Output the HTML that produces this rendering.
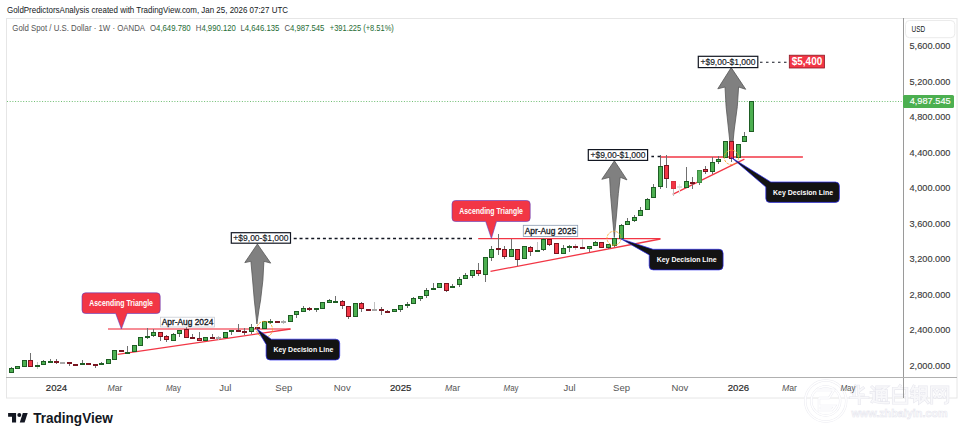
<!DOCTYPE html>
<html><head><meta charset="utf-8"><style>
html,body{margin:0;padding:0;background:#fff;width:964px;height:438px;overflow:hidden}
svg{display:block;font-family:"Liberation Sans",sans-serif}
</style></head><body>
<svg width="964" height="438" viewBox="0 0 964 438">
<rect width="964" height="438" fill="#fff"/>
<text x="7" y="13.3" font-size="8.6" fill="#131722" textLength="281" lengthAdjust="spacingAndGlyphs">GoldPredictorsAnalysis created with TradingView.com, Jan 25, 2026 07:27 UTC</text>
<rect x="6.5" y="18.5" width="950.5" height="379.5" fill="#fff" stroke="#e6e6e6" stroke-width="1"/>
<line x1="903.5" y1="18" x2="903.5" y2="398" stroke="#9a9a9a" stroke-width="1"/>
<line x1="6" y1="377.5" x2="957" y2="377.5" stroke="#b0b0b0" stroke-width="1"/>
<rect x="905.5" y="20.5" width="49.3" height="17.2" rx="4" fill="#fff" stroke="#ebebeb"/>
<text x="911.6" y="31.9" font-size="8.4" fill="#131722" textLength="13.6" lengthAdjust="spacingAndGlyphs">USD</text>
<g font-size="9" fill="#3a3a3a" stroke="#3a3a3a" stroke-width="0.12"><text x="909.5" y="49.3" textLength="41" lengthAdjust="spacingAndGlyphs">5,600.000</text><text x="909.5" y="84.8" textLength="41" lengthAdjust="spacingAndGlyphs">5,200.000</text><text x="909.5" y="120.2" textLength="41" lengthAdjust="spacingAndGlyphs">4,800.000</text><text x="909.5" y="155.7" textLength="41" lengthAdjust="spacingAndGlyphs">4,400.000</text><text x="909.5" y="191.2" textLength="41" lengthAdjust="spacingAndGlyphs">4,000.000</text><text x="909.5" y="226.6" textLength="41" lengthAdjust="spacingAndGlyphs">3,600.000</text><text x="909.5" y="262.1" textLength="41" lengthAdjust="spacingAndGlyphs">3,200.000</text><text x="909.5" y="297.6" textLength="41" lengthAdjust="spacingAndGlyphs">2,800.000</text><text x="909.5" y="333.0" textLength="41" lengthAdjust="spacingAndGlyphs">2,400.000</text><text x="909.5" y="368.5" textLength="41" lengthAdjust="spacingAndGlyphs">2,000.000</text></g>
<g opacity="1"><circle cx="825.7" cy="401" r="20.5" fill="none" stroke="#ebebf1" stroke-width="2.4"/><circle cx="825.7" cy="401" r="20.5" fill="none" stroke="#fff" stroke-width="1.4"/><circle cx="825.7" cy="401" r="14.5" fill="none" stroke="#ebebf1" stroke-width="2.4"/><circle cx="825.7" cy="401" r="14.5" fill="none" stroke="#fff" stroke-width="1.4"/><path d="M817 390 H834 L829 398 H819 M819 398 V410 H832 L835 406 H819" fill="none" stroke="#ebebf1" stroke-width="2.4"/><path d="M817 390 H834 L829 398 H819 M819 398 V410 H832 L835 406 H819" fill="none" stroke="#fff" stroke-width="1.4"/><path transform="translate(849.8,385.2) scale(0.95,0.92)" d="M6 1 L2 8 M4.5 5 V11 M9 1 V9 Q9 10.5 11 10.5 H14 M14 3 L10 6 M1 13.5 H19 M10 11 V20" fill="none" stroke="#e8e8ef" stroke-width="3.2" stroke-linecap="square"/><path transform="translate(849.8,385.2) scale(0.95,0.92)" d="M6 1 L2 8 M4.5 5 V11 M9 1 V9 Q9 10.5 11 10.5 H14 M14 3 L10 6 M1 13.5 H19 M10 11 V20" fill="none" stroke="#fff" stroke-opacity="0.7" stroke-width="1.8" stroke-linecap="square"/><path transform="translate(870.2,385.2) scale(0.95,0.92)" d="M2 2 L4 4 M1 8 H4 V15 L2 18 M4 17 Q8 19.5 19 19 M7 2 H17 L13 5 M7 6 H17 V16 M7 6 V16 M7 10 H17 M7 13 H17 M12 6 V16" fill="none" stroke="#e8e8ef" stroke-width="3.2" stroke-linecap="square"/><path transform="translate(870.2,385.2) scale(0.95,0.92)" d="M2 2 L4 4 M1 8 H4 V15 L2 18 M4 17 Q8 19.5 19 19 M7 2 H17 L13 5 M7 6 H17 V16 M7 6 V16 M7 10 H17 M7 13 H17 M12 6 V16" fill="none" stroke="#fff" stroke-opacity="0.7" stroke-width="1.8" stroke-linecap="square"/><path transform="translate(890.6,385.2) scale(0.95,0.92)" d="M10 0.5 L8.5 3 M3 3.5 H17 V19.5 H3 Z M3 11 H17" fill="none" stroke="#e8e8ef" stroke-width="3.2" stroke-linecap="square"/><path transform="translate(890.6,385.2) scale(0.95,0.92)" d="M10 0.5 L8.5 3 M3 3.5 H17 V19.5 H3 Z M3 11 H17" fill="none" stroke="#fff" stroke-opacity="0.7" stroke-width="1.8" stroke-linecap="square"/><path transform="translate(910,385.2) scale(0.95,0.92)" d="M4 1 L1.5 6 M3 4 H8 M2 9 H8 M5 5 V17 L8 15 M2 13 H8 M10 2 H17 V11 H10 Z M10 6.5 H17 M10 2 V19 L14 16 M13 11 L19 19 M17 12 L13 15" fill="none" stroke="#e8e8ef" stroke-width="3.2" stroke-linecap="square"/><path transform="translate(910,385.2) scale(0.95,0.92)" d="M4 1 L1.5 6 M3 4 H8 M2 9 H8 M5 5 V17 L8 15 M2 13 H8 M10 2 H17 V11 H10 Z M10 6.5 H17 M10 2 V19 L14 16 M13 11 L19 19 M17 12 L13 15" fill="none" stroke="#fff" stroke-opacity="0.7" stroke-width="1.8" stroke-linecap="square"/><path transform="translate(930.2,385.2) scale(0.95,0.92)" d="M1.5 19.5 V2 H18.5 V17 Q18.5 19.5 16 19.5 M5 6 L9 13 M9 6 L5 13 M11 6 L15 13 M15 6 L11 13" fill="none" stroke="#e8e8ef" stroke-width="3.2" stroke-linecap="square"/><path transform="translate(930.2,385.2) scale(0.95,0.92)" d="M1.5 19.5 V2 H18.5 V17 Q18.5 19.5 16 19.5 M5 6 L9 13 M9 6 L5 13 M11 6 L15 13 M15 6 L11 13" fill="none" stroke="#fff" stroke-opacity="0.7" stroke-width="1.8" stroke-linecap="square"/><text x="851.4" y="417.3" font-size="11" font-weight="bold" fill="#fff" stroke="#e6e6ee" stroke-width="0.6" textLength="96.3" lengthAdjust="spacingAndGlyphs">www.zhbaiyin.com</text></g>
<g font-size="9.5" fill="#555"><text x="56.5" y="390.9" text-anchor="middle" fill="#2a2a2a" stroke="#2a2a2a" stroke-width="0.2" font-size="9.6">2024</text><text x="114.9" y="390.9" text-anchor="middle" textLength="15" lengthAdjust="spacingAndGlyphs"><tspan font-style="italic">M</tspan>ar</text><text x="173.4" y="390.9" text-anchor="middle" textLength="15" lengthAdjust="spacingAndGlyphs"><tspan font-style="italic">M</tspan>ay</text><text x="225.3" y="390.9" text-anchor="middle">Jul</text><text x="283.8" y="390.9" text-anchor="middle">Sep</text><text x="342.2" y="390.9" text-anchor="middle">Nov</text><text x="400.7" y="390.9" text-anchor="middle" fill="#2a2a2a" stroke="#2a2a2a" stroke-width="0.2" font-size="9.6">2025</text><text x="452.6" y="390.9" text-anchor="middle" textLength="15" lengthAdjust="spacingAndGlyphs"><tspan font-style="italic">M</tspan>ar</text><text x="511.1" y="390.9" text-anchor="middle" textLength="15" lengthAdjust="spacingAndGlyphs"><tspan font-style="italic">M</tspan>ay</text><text x="569.6" y="390.9" text-anchor="middle">Jul</text><text x="621.5" y="390.9" text-anchor="middle">Sep</text><text x="679.9" y="390.9" text-anchor="middle">Nov</text><text x="738.4" y="390.9" text-anchor="middle" fill="#2a2a2a" stroke="#2a2a2a" stroke-width="0.2" font-size="9.6">2026</text><text x="789.5" y="390.9" text-anchor="middle" textLength="15" lengthAdjust="spacingAndGlyphs"><tspan font-style="italic">M</tspan>ar</text><text x="848.0" y="390.9" text-anchor="middle" textLength="15" lengthAdjust="spacingAndGlyphs"><tspan font-style="italic">M</tspan>ay</text></g>
<g font-size="8.6" fill="#1e6b34"><text x="12.3" y="31.2" fill="#555" textLength="132.8" lengthAdjust="spacingAndGlyphs">Gold Spot / U.S. Dollar · 1W · OANDA</text><text x="150" y="31.2" textLength="40.7" lengthAdjust="spacingAndGlyphs"><tspan fill="#555">O</tspan>4,649.780</text><text x="195.8" y="31.2" textLength="40" lengthAdjust="spacingAndGlyphs"><tspan fill="#555">H</tspan>4,990.120</text><text x="240.4" y="31.2" textLength="39" lengthAdjust="spacingAndGlyphs"><tspan fill="#555">L</tspan>4,646.135</text><text x="284.4" y="31.2" textLength="40" lengthAdjust="spacingAndGlyphs"><tspan fill="#555">C</tspan>4,987.545</text><text x="329.8" y="31.2" textLength="64" lengthAdjust="spacingAndGlyphs">+391.225 (+8.51%)</text></g>
<line x1="7" y1="101.5" x2="903" y2="101.5" stroke="#4caf50" stroke-width="1" stroke-dasharray="1 1.7" opacity="0.8"/>
<line x1="108" y1="329" x2="290.5" y2="329" stroke="#f23645" stroke-width="1.6" opacity="0.75"/><line x1="117.7" y1="354.3" x2="290.5" y2="329" stroke="#f23645" stroke-width="1.3"/><line x1="478.2" y1="238.6" x2="660.4" y2="238.6" stroke="#f23645" stroke-width="1.4"/><line x1="490.5" y1="271.4" x2="660.4" y2="239" stroke="#f23645" stroke-width="1.3"/><line x1="660.5" y1="157.0" x2="802.9" y2="157.0" stroke="#f23645" stroke-width="1.4"/><line x1="672.7" y1="194.3" x2="744.4" y2="159.2" stroke="#f23645" stroke-width="1.3"/>
<path d="M257.4 244.0 L270.7 263.1 L263.9 261.3 L262.9 280.0 L260.6 300.0 L258.9 310.0 L256.9 324.0 L255.4 310.0 L254.3 300.0 L252.6 280.0 L250.9 261.3 L244.8 262.6Z" fill="#808080" stroke="#585858" stroke-width="0.8" stroke-linejoin="round"/><path d="M614.4 160.8 L627.0 179.9 L620.2 177.3 L618.3 193.8 L616.5 215.0 L614.3 237.5 L612.3 215.0 L610.5 193.8 L609.6 177.3 L601.8 179.3Z" fill="#808080" stroke="#585858" stroke-width="0.8" stroke-linejoin="round"/><path d="M731.2 67.6 L745.7 89.3 L738.6 87.0 L737.3 106.7 L734.2 130.0 L731.5 157.0 L728.6 130.0 L726.1 106.7 L725.0 87.0 L717.8 88.8Z" fill="#808080" stroke="#585858" stroke-width="0.8" stroke-linejoin="round"/>
<g fill="#707070"><rect x="11" y="367" width="1" height="6"/><rect x="30" y="353" width="1" height="14"/><rect x="37" y="362" width="1" height="7" fill="#c0c0c0"/><rect x="43" y="360" width="1" height="5"/><rect x="50" y="359" width="1" height="4"/><rect x="56" y="359" width="1" height="5"/><rect x="69" y="362" width="1" height="4"/><rect x="82" y="360" width="1" height="5"/><rect x="95" y="364" width="1" height="4"/><rect x="101" y="362" width="1" height="3"/><rect x="127" y="346" width="1" height="8"/><rect x="147" y="328" width="1" height="11"/><rect x="153" y="329" width="1" height="8"/><rect x="160" y="332" width="1" height="9"/><rect x="166" y="335" width="1" height="7"/><rect x="173" y="333" width="1" height="8"/><rect x="179" y="330" width="1" height="7"/><rect x="186" y="326" width="1" height="12"/><rect x="192" y="334" width="1" height="5"/><rect x="199" y="332" width="1" height="9"/><rect x="212" y="334" width="1" height="5"/><rect x="218" y="336" width="1" height="4" fill="#c0c0c0"/><rect x="231" y="330" width="1" height="5"/><rect x="238" y="324" width="1" height="8"/><rect x="244" y="328" width="1" height="7"/><rect x="251" y="324" width="1" height="10"/><rect x="270" y="319" width="1" height="5"/><rect x="283" y="320" width="1" height="4" fill="#c0c0c0"/><rect x="296" y="311" width="1" height="7"/><rect x="303" y="306" width="1" height="6"/><rect x="309" y="307" width="1" height="4"/><rect x="316" y="308" width="1" height="4"/><rect x="329" y="299" width="1" height="4"/><rect x="335" y="296" width="1" height="7"/><rect x="342" y="300" width="1" height="9"/><rect x="348" y="306" width="1" height="13"/><rect x="361" y="302" width="1" height="10"/><rect x="374" y="302" width="1" height="9" fill="#c0c0c0"/><rect x="381" y="307" width="1" height="8"/><rect x="387" y="310" width="1" height="3"/><rect x="400" y="305" width="1" height="7"/><rect x="407" y="302" width="1" height="6"/><rect x="413" y="297" width="1" height="7"/><rect x="420" y="296" width="1" height="5"/><rect x="426" y="288" width="1" height="10"/><rect x="433" y="283" width="1" height="7"/><rect x="446" y="283" width="1" height="9"/><rect x="452" y="284" width="1" height="4"/><rect x="459" y="277" width="1" height="10"/><rect x="465" y="273" width="1" height="6"/><rect x="472" y="270" width="1" height="8"/><rect x="478" y="263" width="1" height="13"/><rect x="485" y="257" width="1" height="25"/><rect x="491" y="246" width="1" height="15"/><rect x="498" y="234" width="1" height="21"/><rect x="504" y="246" width="1" height="13"/><rect x="511" y="239" width="1" height="18"/><rect x="517" y="249" width="1" height="17"/><rect x="530" y="246" width="1" height="10"/><rect x="537" y="242" width="1" height="10" fill="#c0c0c0"/><rect x="543" y="238" width="1" height="13"/><rect x="549" y="239" width="1" height="7"/><rect x="563" y="245" width="1" height="9"/><rect x="569" y="245" width="1" height="7"/><rect x="575" y="244" width="1" height="6" fill="#c0c0c0"/><rect x="582" y="239" width="1" height="10" fill="#c0c0c0"/><rect x="589" y="246" width="1" height="6"/><rect x="595" y="241" width="1" height="5"/><rect x="608" y="244" width="1" height="5"/><rect x="614" y="238" width="1" height="9"/><rect x="621" y="224" width="1" height="15"/><rect x="627" y="218" width="1" height="7"/><rect x="634" y="215" width="1" height="7"/><rect x="640" y="207" width="1" height="9"/><rect x="647" y="198" width="1" height="12"/><rect x="653" y="184" width="1" height="14"/><rect x="660" y="155" width="1" height="34"/><rect x="666" y="155" width="1" height="33"/><rect x="673" y="181" width="1" height="15" fill="#c0c0c0"/><rect x="679" y="184" width="1" height="10" fill="#e8e8e8"/><rect x="686" y="167" width="1" height="21"/><rect x="692" y="177" width="1" height="12"/><rect x="699" y="170" width="1" height="15"/><rect x="705" y="166" width="1" height="8"/><rect x="712" y="157" width="1" height="17"/><rect x="718" y="156" width="1" height="8"/><rect x="731" y="141" width="1" height="21"/><rect x="744" y="132" width="1" height="10"/></g>
<g><rect x="9.5" y="368.5" width="4" height="4" fill="#4caf50" stroke="#1e5e24" stroke-width="1"/><rect x="15.5" y="366.5" width="4" height="2" fill="#4caf50" stroke="#1e5e24" stroke-width="1"/><rect x="22.5" y="360.5" width="4" height="6" fill="#4caf50" stroke="#1e5e24" stroke-width="1"/><rect x="28.5" y="360.5" width="4" height="6" fill="#f23645" stroke="#7a1520" stroke-width="1"/><rect x="35" y="365" width="5" height="2" fill="#1e5e24"/><rect x="41.5" y="361.5" width="4" height="3" fill="#4caf50" stroke="#1e5e24" stroke-width="1"/><rect x="48" y="361" width="5" height="2" fill="#1e5e24"/><rect x="54" y="361" width="5" height="2" fill="#7a1520"/><rect x="60" y="362" width="5" height="2" fill="#a8a8a8"/><rect x="67" y="362" width="5" height="2" fill="#7a1520"/><rect x="73" y="364" width="5" height="2" fill="#7a1520"/><rect x="80" y="363" width="5" height="2" fill="#1e5e24"/><rect x="86" y="363" width="5" height="2" fill="#7a1520"/><rect x="93" y="364" width="5" height="2" fill="#7a1520"/><rect x="99" y="363" width="5" height="2" fill="#1e5e24"/><rect x="106.5" y="359.5" width="4" height="4" fill="#4caf50" stroke="#1e5e24" stroke-width="1"/><rect x="112.5" y="350.5" width="4" height="9" fill="#4caf50" stroke="#1e5e24" stroke-width="1"/><rect x="119" y="350" width="5" height="2" fill="#7a1520"/><rect x="125" y="352" width="5" height="2" fill="#1e5e24"/><rect x="132.5" y="345.5" width="4" height="6" fill="#4caf50" stroke="#1e5e24" stroke-width="1"/><rect x="138.5" y="337.5" width="4" height="8" fill="#4caf50" stroke="#1e5e24" stroke-width="1"/><rect x="145" y="336" width="5" height="2" fill="#1e5e24"/><rect x="151.5" y="332.5" width="4" height="3" fill="#4caf50" stroke="#1e5e24" stroke-width="1"/><rect x="158.5" y="332.5" width="4" height="4" fill="#f23645" stroke="#7a1520" stroke-width="1"/><rect x="164.5" y="336.5" width="4" height="3" fill="#f23645" stroke="#7a1520" stroke-width="1"/><rect x="171.5" y="334.5" width="4" height="6" fill="#4caf50" stroke="#1e5e24" stroke-width="1"/><rect x="177.5" y="330.5" width="4" height="3" fill="#4caf50" stroke="#1e5e24" stroke-width="1"/><rect x="184.5" y="329.5" width="4" height="8" fill="#f23645" stroke="#7a1520" stroke-width="1"/><rect x="190" y="337" width="5" height="2" fill="#7a1520"/><rect x="197.5" y="338.5" width="4" height="2" fill="#f23645" stroke="#7a1520" stroke-width="1"/><rect x="203.5" y="337.5" width="4" height="3" fill="#4caf50" stroke="#1e5e24" stroke-width="1"/><rect x="210" y="337" width="5" height="2" fill="#7a1520"/><rect x="216" y="337" width="5" height="2" fill="#a8a8a8"/><rect x="223.5" y="332.5" width="4" height="5" fill="#4caf50" stroke="#1e5e24" stroke-width="1"/><rect x="229" y="330" width="5" height="2" fill="#1e5e24"/><rect x="236" y="330" width="5" height="2" fill="#7a1520"/><rect x="242" y="331" width="5" height="2" fill="#7a1520"/><rect x="249.5" y="327.5" width="4" height="4" fill="#4caf50" stroke="#1e5e24" stroke-width="1"/><rect x="255" y="327" width="5" height="2" fill="#7a1520"/><rect x="262.5" y="321.5" width="4" height="7" fill="#4caf50" stroke="#1e5e24" stroke-width="1"/><rect x="268" y="321" width="5" height="2" fill="#1e5e24"/><rect x="275" y="321" width="5" height="2" fill="#7a1520"/><rect x="281" y="321" width="5" height="2" fill="#a8a8a8"/><rect x="288.5" y="315.5" width="4" height="6" fill="#4caf50" stroke="#1e5e24" stroke-width="1"/><rect x="294.5" y="311.5" width="4" height="3" fill="#4caf50" stroke="#1e5e24" stroke-width="1"/><rect x="301.5" y="308.5" width="4" height="3" fill="#4caf50" stroke="#1e5e24" stroke-width="1"/><rect x="307" y="308" width="5" height="2" fill="#7a1520"/><rect x="314" y="308" width="5" height="2" fill="#1e5e24"/><rect x="320.5" y="302.5" width="4" height="6" fill="#4caf50" stroke="#1e5e24" stroke-width="1"/><rect x="327.5" y="300.5" width="4" height="2" fill="#4caf50" stroke="#1e5e24" stroke-width="1"/><rect x="333" y="301" width="5" height="2" fill="#1e5e24"/><rect x="340.5" y="301.5" width="4" height="4" fill="#f23645" stroke="#7a1520" stroke-width="1"/><rect x="346.5" y="306.5" width="4" height="10" fill="#f23645" stroke="#7a1520" stroke-width="1"/><rect x="353.5" y="303.5" width="4" height="13" fill="#4caf50" stroke="#1e5e24" stroke-width="1"/><rect x="359.5" y="303.5" width="4" height="5" fill="#f23645" stroke="#7a1520" stroke-width="1"/><rect x="366" y="309" width="5" height="2" fill="#7a1520"/><rect x="372" y="309" width="5" height="2" fill="#a8a8a8"/><rect x="379" y="309" width="5" height="2" fill="#7a1520"/><rect x="385" y="311" width="5" height="2" fill="#7a1520"/><rect x="392.5" y="309.5" width="4" height="2" fill="#4caf50" stroke="#1e5e24" stroke-width="1"/><rect x="398.5" y="305.5" width="4" height="4" fill="#4caf50" stroke="#1e5e24" stroke-width="1"/><rect x="405" y="304" width="5" height="2" fill="#1e5e24"/><rect x="411.5" y="298.5" width="4" height="5" fill="#4caf50" stroke="#1e5e24" stroke-width="1"/><rect x="418.5" y="296.5" width="4" height="2" fill="#4caf50" stroke="#1e5e24" stroke-width="1"/><rect x="424.5" y="290.5" width="4" height="5" fill="#4caf50" stroke="#1e5e24" stroke-width="1"/><rect x="431" y="288" width="5" height="2" fill="#1e5e24"/><rect x="437.5" y="283.5" width="4" height="4" fill="#4caf50" stroke="#1e5e24" stroke-width="1"/><rect x="444.5" y="283.5" width="4" height="7" fill="#f23645" stroke="#7a1520" stroke-width="1"/><rect x="450" y="286" width="5" height="2" fill="#1e5e24"/><rect x="457.5" y="279.5" width="4" height="5" fill="#4caf50" stroke="#1e5e24" stroke-width="1"/><rect x="463.5" y="275.5" width="4" height="3" fill="#4caf50" stroke="#1e5e24" stroke-width="1"/><rect x="470.5" y="270.5" width="4" height="5" fill="#4caf50" stroke="#1e5e24" stroke-width="1"/><rect x="476.5" y="270.5" width="4" height="3" fill="#f23645" stroke="#7a1520" stroke-width="1"/><rect x="483.5" y="257.5" width="4" height="17" fill="#4caf50" stroke="#1e5e24" stroke-width="1"/><rect x="489.5" y="249.5" width="4" height="8" fill="#4caf50" stroke="#1e5e24" stroke-width="1"/><rect x="496" y="248" width="5" height="2" fill="#7a1520"/><rect x="502.5" y="249.5" width="4" height="7" fill="#f23645" stroke="#7a1520" stroke-width="1"/><rect x="509.5" y="249.5" width="4" height="7" fill="#4caf50" stroke="#1e5e24" stroke-width="1"/><rect x="515.5" y="249.5" width="4" height="10" fill="#f23645" stroke="#7a1520" stroke-width="1"/><rect x="522.5" y="246.5" width="4" height="12" fill="#4caf50" stroke="#1e5e24" stroke-width="1"/><rect x="528.5" y="247.5" width="4" height="4" fill="#f23645" stroke="#7a1520" stroke-width="1"/><rect x="535" y="250" width="5" height="2" fill="#1e5e24"/><rect x="541.5" y="239.5" width="4" height="10" fill="#4caf50" stroke="#1e5e24" stroke-width="1"/><rect x="547.5" y="239.5" width="4" height="5" fill="#f23645" stroke="#7a1520" stroke-width="1"/><rect x="554.5" y="243.5" width="4" height="10" fill="#f23645" stroke="#7a1520" stroke-width="1"/><rect x="561.5" y="248.5" width="4" height="5" fill="#4caf50" stroke="#1e5e24" stroke-width="1"/><rect x="567" y="246" width="5" height="2" fill="#1e5e24"/><rect x="573" y="246" width="5" height="2" fill="#7a1520"/><rect x="580" y="247" width="5" height="2" fill="#7a1520"/><rect x="587.5" y="246.5" width="4" height="2" fill="#4caf50" stroke="#1e5e24" stroke-width="1"/><rect x="593.5" y="242.5" width="4" height="3" fill="#4caf50" stroke="#1e5e24" stroke-width="1"/><rect x="599.5" y="242.5" width="4" height="5" fill="#f23645" stroke="#7a1520" stroke-width="1"/><rect x="606.5" y="244.5" width="4" height="3" fill="#4caf50" stroke="#1e5e24" stroke-width="1"/><rect x="612.5" y="238.5" width="4" height="7" fill="#4caf50" stroke="#1e5e24" stroke-width="1"/><rect x="619.5" y="225.5" width="4" height="13" fill="#4caf50" stroke="#1e5e24" stroke-width="1"/><rect x="625.5" y="221.5" width="4" height="3" fill="#4caf50" stroke="#1e5e24" stroke-width="1"/><rect x="632.5" y="217.5" width="4" height="3" fill="#4caf50" stroke="#1e5e24" stroke-width="1"/><rect x="638.5" y="210.5" width="4" height="5" fill="#4caf50" stroke="#1e5e24" stroke-width="1"/><rect x="645.5" y="199.5" width="4" height="10" fill="#4caf50" stroke="#1e5e24" stroke-width="1"/><rect x="651.5" y="187.5" width="4" height="10" fill="#4caf50" stroke="#1e5e24" stroke-width="1"/><rect x="658.5" y="166.5" width="4" height="20" fill="#4caf50" stroke="#1e5e24" stroke-width="1"/><rect x="664.5" y="165.5" width="4" height="13" fill="#f23645" stroke="#7a1520" stroke-width="1"/><rect x="671.5" y="181.5" width="4" height="7" fill="#f23645" stroke="#d83040" stroke-width="1"/><rect x="677" y="186" width="5" height="2" fill="#e0e0e0"/><rect x="684.5" y="181.5" width="4" height="6" fill="#4caf50" stroke="#1e5e24" stroke-width="1"/><rect x="690" y="182" width="5" height="2" fill="#7a1520"/><rect x="697.5" y="170.5" width="4" height="12" fill="#55b159" stroke="#3f8f44" stroke-width="1"/><rect x="703.5" y="169.5" width="4" height="2" fill="#f23645" stroke="#7a1520" stroke-width="1"/><rect x="710.5" y="162.5" width="4" height="9" fill="#4caf50" stroke="#1e5e24" stroke-width="1"/><rect x="716.5" y="159.5" width="4" height="2" fill="#4caf50" stroke="#1e5e24" stroke-width="1"/><rect x="723.5" y="141.5" width="4" height="16" fill="#4caf50" stroke="#1e5e24" stroke-width="1"/><rect x="729.5" y="141.5" width="4" height="17" fill="#f23645" stroke="#7a1520" stroke-width="1"/><rect x="736.5" y="144.5" width="4" height="13" fill="#4caf50" stroke="#1e5e24" stroke-width="1"/><rect x="742.5" y="136.5" width="4" height="5" fill="#4caf50" stroke="#1e5e24" stroke-width="1"/><rect x="749.5" y="101.5" width="4" height="30" fill="#4caf50" stroke="#1e5e24" stroke-width="1"/></g>
<circle cx="264.5" cy="329.3" r="8" fill="none" stroke="#f7a325" stroke-width="0.9" stroke-dasharray="2.4 1.1"/><circle cx="614" cy="238.3" r="7.0" fill="none" stroke="#f7a325" stroke-width="0.9" stroke-dasharray="2.4 1.1"/><circle cx="731.4" cy="157.4" r="7.2" fill="none" stroke="#f7a325" stroke-width="0.9" stroke-dasharray="2.4 1.1"/><line x1="293.7" y1="238.5" x2="472" y2="238.5" stroke="#131722" stroke-width="1.3" stroke-dasharray="3 2.843"/><line x1="651.4" y1="156.5" x2="660.2" y2="156.5" stroke="#131722" stroke-width="1.3" stroke-dasharray="2.6 3.6"/><line x1="760" y1="62.3" x2="786.5" y2="62.3" stroke="#131722" stroke-width="1.1" stroke-dasharray="2.5 3.5"/><rect x="231.3" y="232.7" width="59.19999999999999" height="10.5" fill="#fff" stroke="#131722" stroke-width="1.2"/><text x="260.9" y="241.0" text-anchor="middle" font-size="8.5" fill="#131722" stroke="#131722" stroke-width="0.15">+$9,00-$1,000</text><rect x="588.3" y="149.6" width="59.30000000000007" height="10.800000000000011" fill="#fff" stroke="#131722" stroke-width="1.2"/><text x="618.0" y="158.1" text-anchor="middle" font-size="8.5" fill="#131722" stroke="#131722" stroke-width="0.15">+$9,00-$1,000</text><rect x="698.3" y="56.3" width="59.5" height="11.299999999999997" fill="#fff" stroke="#131722" stroke-width="1.2"/><text x="728.0" y="65.0" text-anchor="middle" font-size="8.5" fill="#131722" stroke="#131722" stroke-width="0.15">+$9,00-$1,000</text><rect x="160.5" y="317.2" width="54.0" height="9.800000000000011" fill="#fff" stroke="#c8ccd4" stroke-width="0.8"/><text x="187.5" y="325.2" text-anchor="middle" font-size="8.4" fill="#131722" stroke="#131722" stroke-width="0.3">Apr-Aug 2024</text><rect x="523.3" y="225.3" width="54.40000000000009" height="11.199999999999989" fill="#fff" stroke="#8a9ab0" stroke-width="0.8"/><text x="550.5" y="234.0" text-anchor="middle" font-size="8.4" fill="#131722" stroke="#131722" stroke-width="0.3">Apr-Aug 2025</text><rect x="789.3" y="55.2" width="35.2" height="12.8" fill="#f23645" stroke="#8a1a24" stroke-width="0.8"/><text x="807" y="65.2" text-anchor="middle" font-size="10.2" font-weight="bold" fill="#fff" textLength="30.4" lengthAdjust="spacingAndGlyphs">$5,400</text><path d="M85.5 292.8 H156.7 Q160.2 292.8 160.2 296.3 V310.0 Q160.2 313.5 156.7 313.5 H127.1 L121.4 329 L115.7 313.5 H85.5 Q82 313.5 82 310.0 V296.3 Q82 292.8 85.5 292.8Z" fill="#f23645" stroke="#5b3cc4" stroke-width="0.6"/><text x="121.1" y="305.6" text-anchor="middle" font-size="8.2" font-weight="bold" fill="#fff" textLength="63.6" lengthAdjust="spacingAndGlyphs">Ascending Triangle</text><path d="M455.5 200.5 H526.7 Q530.2 200.5 530.2 204.0 V218.0 Q530.2 221.5 526.7 221.5 H496.5 L491.4 238.6 L485.7 221.5 H455.5 Q452 221.5 452 218.0 V204.0 Q452 200.5 455.5 200.5Z" fill="#f23645" stroke="#5b3cc4" stroke-width="0.6"/><text x="491.1" y="213.5" text-anchor="middle" font-size="8.2" font-weight="bold" fill="#fff" textLength="63.6" lengthAdjust="spacingAndGlyphs">Ascending Triangle</text><path d="M271.3 339.2 H335.7 Q339.7 339.2 339.7 343.2 V356 Q339.7 360 335.7 360 H270.1 Q266.1 360 266.1 356 V344.4 L256.7 328.8 Z" fill="#131313" stroke="#2b2bf0" stroke-width="0.7" stroke-linejoin="round"/><text x="303.4" y="352.3" text-anchor="middle" font-size="7.4" font-weight="bold" fill="#fff" textLength="60" lengthAdjust="spacingAndGlyphs">Key Decision Line</text><path d="M653 249.3 H719.1 Q723.1 249.3 723.1 253.3 V265.9 Q723.1 269.9 719.1 269.9 H653.2 Q649.2 269.9 649.2 265.9 V254.9 L620.6 238.7 Z" fill="#131313" stroke="#2b2bf0" stroke-width="0.7" stroke-linejoin="round"/><text x="686.7" y="262.3" text-anchor="middle" font-size="7.4" font-weight="bold" fill="#fff" textLength="60" lengthAdjust="spacingAndGlyphs">Key Decision Line</text><path d="M770.8 182 H835.4 Q839.4 182 839.4 186 V198.4 Q839.4 202.4 835.4 202.4 H769.8 Q765.8 202.4 765.8 198.4 V187 L731.3 157.5 Z" fill="#131313" stroke="#2b2bf0" stroke-width="0.7" stroke-linejoin="round"/><text x="803.1" y="194.9" text-anchor="middle" font-size="7.4" font-weight="bold" fill="#fff" textLength="60" lengthAdjust="spacingAndGlyphs">Key Decision Line</text>
<line x1="903.5" y1="378" x2="903.5" y2="398" stroke="#9a9a9a" stroke-width="1"/>
<rect x="903" y="95" width="51" height="13" rx="1.5" fill="#4caf50"/>
<text x="909.7" y="104.4" font-size="9" fill="#fff" stroke="#fff" stroke-width="0.15" textLength="41" lengthAdjust="spacingAndGlyphs">4,987.545</text>
<!-- footer logo -->
<g fill="#131722"><path d="M8.1 413H16.1V422.6H12V416.8H8.1Z"/><circle cx="19.3" cy="414.9" r="2"/><path d="M22.8 413H27.7L24.6 422.6H19.8Z"/></g><text x="33.2" y="422.8" font-size="14" font-weight="bold" fill="#131722" textLength="79.6" lengthAdjust="spacingAndGlyphs">TradingView</text>
</svg>
</body></html>
